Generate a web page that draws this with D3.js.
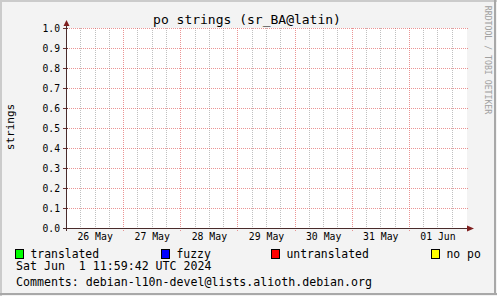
<!DOCTYPE html>
<html><head><meta charset="utf-8">
<script src="https://cdn.jsdelivr.net/npm/d3@7"></script>
<style>
html,body{margin:0;padding:0;background:#f3f3f3;}
svg{display:block;}
text{font-family:"DejaVu Sans Mono",monospace;}
</style></head>
<body>
<svg id="c" width="497" height="296"></svg>
<script>
// ---- data ----
const title = "po strings (sr_BA@latin)";
const yLabel = "strings";
const days = ["2024-05-26","2024-05-27","2024-05-28","2024-05-29","2024-05-30","2024-05-31","2024-06-01","2024-06-02"];
const yTicks = [0.0,0.1,0.2,0.3,0.4,0.5,0.6,0.7,0.8,0.9,1.0];
const seriesNames = ["translated","fuzzy","untranslated","no po"];
const seriesColors = ["#00ff00","#0000ff","#ff0000","#ffff00"];
// no data recorded in the period (graph is empty)
const translated   = [null,null,null,null,null,null,null,null];
const fuzzy        = [null,null,null,null,null,null,null,null];
const untranslated = [null,null,null,null,null,null,null,null];
const nopo         = [null,null,null,null,null,null,null,null];
const dateLine = "Sat Jun  1 11:59:42 UTC 2024";
const commentLine = "Comments: debian-l10n-devel@lists.alioth.debian.org";
const watermark = "RRDTOOL / TOBI OETIKER";

// ---- layout ----
const W = 497, H = 296;
const X0 = 66, X1 = 466, Y0 = 228, Y1 = 28;
const svg = d3.select("#c");

// frame
svg.append("rect").attr("x",0).attr("y",0).attr("width",W).attr("height",H).attr("fill","#f3f3f3");
svg.append("rect").attr("x",0).attr("y",0).attr("width",W).attr("height",2).attr("fill","#cbcbcb");
svg.append("rect").attr("x",0).attr("y",0).attr("width",2).attr("height",H).attr("fill","#cbcbcb");
svg.append("rect").attr("x",0).attr("y",H-3).attr("width",W).attr("height",2).attr("fill","#a8a8a8");
svg.append("rect").attr("x",W-3).attr("y",0).attr("width",2).attr("height",H-1).attr("fill","#a8a8a8");

// canvas
svg.append("rect").attr("x",X0).attr("y",Y1).attr("width",X1-X0+1).attr("height",Y0-Y1).attr("fill","#ffffff");

const parse = d3.utcParse("%Y-%m-%d");
const dates = days.map(parse);
const x = d3.scaleUtc().domain([dates[0], dates[dates.length-1]]).range([X0, X1]);
const y = d3.scaleLinear().domain([0,1]).range([Y0, Y1]);

// minor grid (6 hours)
const minor = d3.utcHour.every(6).range(dates[0], dates[dates.length-1]).filter(d => d.getUTCHours() !== 0);
svg.append("g").selectAll("line").data(minor).join("line")
  .attr("x1", d => Math.round(x(d))+0.5).attr("x2", d => Math.round(x(d))+0.5)
  .attr("y1", Y1).attr("y2", Y0)
  .attr("stroke","rgba(140,140,140,0.55)").attr("stroke-dasharray","1,1");

// major vertical grid (days)
const major = dates.slice(1, dates.length-1);
svg.append("g").selectAll("line").data(major).join("line")
  .attr("x1", d => Math.round(x(d))+0.5).attr("x2", d => Math.round(x(d))+0.5)
  .attr("y1", Y1).attr("y2", Y0+3)
  .attr("stroke","rgba(222,79,79,0.6)").attr("stroke-dasharray","1,1");

// major horizontal grid
svg.append("g").selectAll("line").data(yTicks).join("line")
  .attr("x1", X0-3).attr("x2", X1+2)
  .attr("y1", d => Math.round(y(d))+0.5).attr("y2", d => Math.round(y(d))+0.5)
  .attr("stroke","rgba(222,79,79,0.6)").attr("stroke-dasharray","1,1");

// series (stacked areas; empty here)
const cols = [translated, fuzzy, untranslated, nopo];
const table = dates.map((d,i) => {
  const o = {date:d};
  seriesNames.forEach((n,k) => o[n] = cols[k][i]);
  return o;
});
const stack = d3.stack().keys(seriesNames).value((d,k) => d[k] == null ? 0 : d[k]);
const stacked = stack(table);
const area = d3.area()
  .defined((d,i) => table[i][seriesNames[0]] != null)
  .x((d,i) => x(table[i].date)).y0(d => y(d[0])).y1(d => y(d[1]));
svg.append("g").selectAll("path").data(stacked).join("path")
  .attr("d", area).attr("fill", (d,i) => seriesColors[i]);

// axes labels
const noon = dates.slice(0, dates.length-1).map(d => d3.utcHour.offset(d, 12));
const xAxis = d3.axisBottom(x).tickValues(noon).tickFormat(d3.utcFormat("%d %b")).tickSize(0).tickPadding(5);
const gx = svg.append("g").attr("transform", `translate(0,${Y0})`).call(xAxis);
gx.select(".domain").remove();
gx.selectAll("text").attr("font-family","DejaVu Sans Mono").attr("font-size","9.8px").attr("fill","#000");

const yAxis = d3.axisLeft(y).tickValues(yTicks).tickFormat(d3.format(".1f")).tickSize(0).tickPadding(6);
const gy = svg.append("g").attr("transform", `translate(${X0},0.5)`).call(yAxis);
gy.select(".domain").remove();
gy.selectAll("text").attr("font-family","DejaVu Sans Mono").attr("font-size","9.7px").attr("fill","#000");

// y ticks
svg.append("g").selectAll("line").data(yTicks).join("line")
  .attr("x1", X0-3).attr("x2", X0+2)
  .attr("y1", d => Math.round(y(d))+0.5).attr("y2", d => Math.round(y(d))+0.5)
  .attr("stroke","#6a3030");

// axis lines
svg.append("line").attr("x1",X0-3).attr("x2",X1+2).attr("y1",Y0+0.5).attr("y2",Y0+0.5).attr("stroke","#4a2b2b");
svg.append("line").attr("x1",X0+0.5).attr("x2",X0+0.5).attr("y1",Y0+3).attr("y2",Y1-4).attr("stroke","#4a2b2b");
svg.append("path").attr("d",`M${X1+1},${Y0-2.5}L${X1+8},${Y0+0.5}L${X1+1},${Y0+3.5}Z`).attr("fill","#7f1f1f");
svg.append("path").attr("d",`M${X0-2.5},${Y1-2}L${X0+0.5},${Y1-8}L${X0+3.5},${Y1-2}Z`).attr("fill","#7f1f1f");

// title
svg.append("text").attr("x",247).attr("y",24).attr("text-anchor","middle")
  .attr("font-size","13px").attr("fill","#000").text(title);

// y label
svg.append("text").attr("transform","translate(14,127) rotate(-90)").attr("text-anchor","middle")
  .attr("font-size","11px").attr("fill","#000").text(yLabel);

// watermark
svg.append("text").attr("transform","translate(485,60) rotate(90)").attr("text-anchor","middle")
  .attr("font-size","8.2px").attr("fill","#a0a0a0").text(watermark);

// legend
const legX = [15.5, 161.5, 271.5, 431.5];
const lg = svg.append("g").selectAll("g").data(seriesNames).join("g")
  .attr("transform", (d,i) => `translate(${legX[i]},249.5)`);
lg.append("rect").attr("width",8).attr("height",9).attr("fill",(d,i)=>seriesColors[i]).attr("stroke","#000");
lg.append("text").attr("x",15).attr("y",8.5).attr("font-size","11.4px").attr("fill","#000").text(d => d);

svg.append("text").attr("x",16).attr("y",270).attr("font-size","11.6px").attr("fill","#000")
  .style("white-space","pre").text(dateLine);
svg.append("text").attr("x",16).attr("y",286).attr("font-size","11.6px").attr("fill","#000")
  .style("white-space","pre").text(commentLine);
</script>
</body></html>
